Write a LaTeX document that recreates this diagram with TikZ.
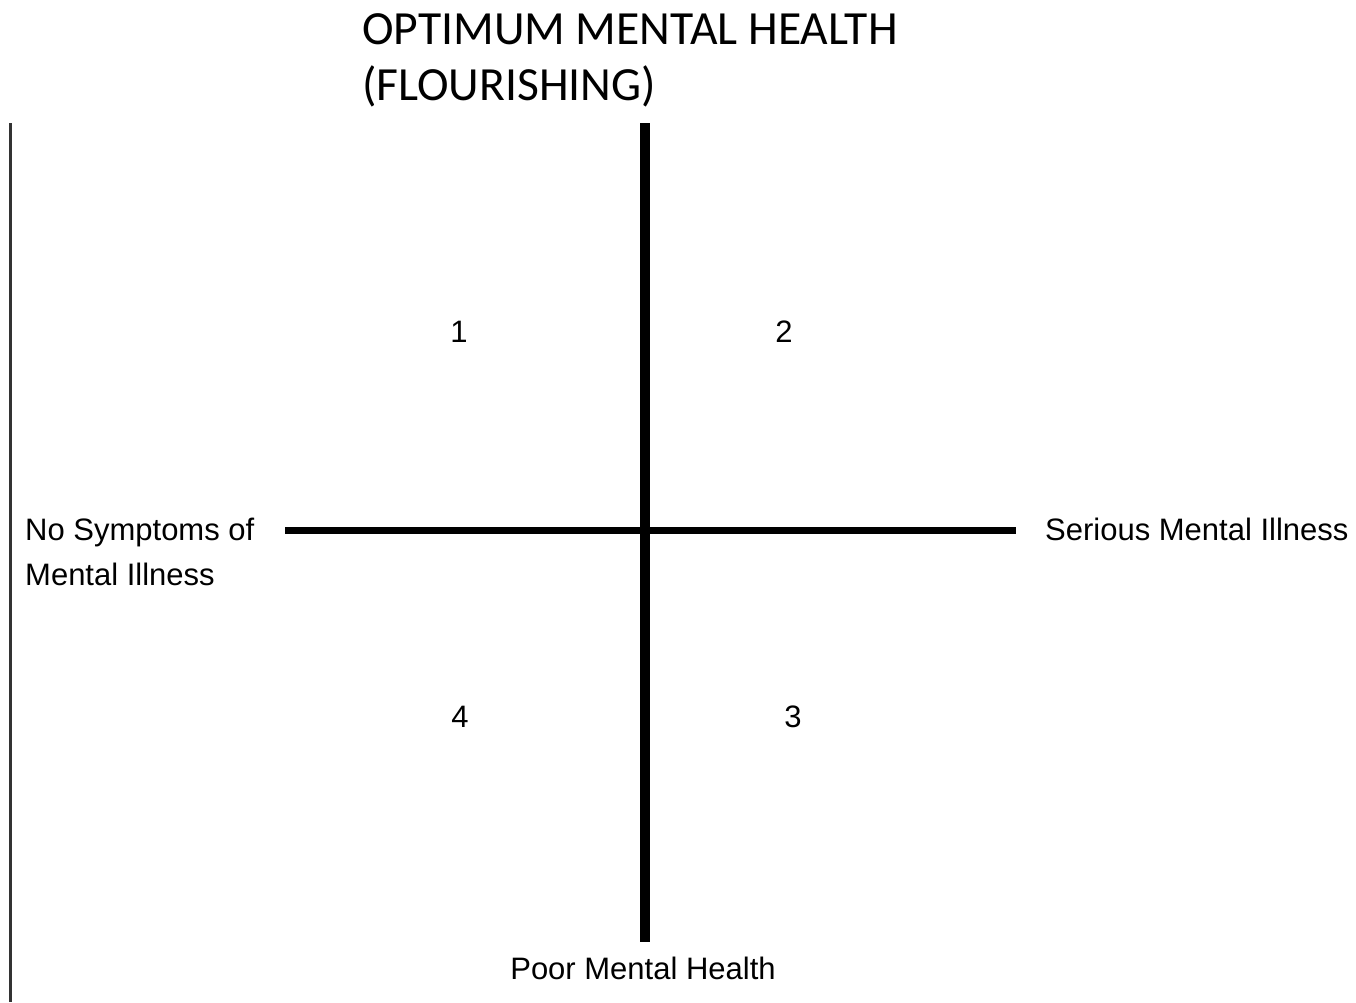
\documentclass[tikz,border=0pt]{standalone}
\usepackage{fontspec}
\setmainfont{Liberation Sans}
\newfontfamily\titlefont{Carlito}
\begin{document}
\begin{tikzpicture}[x=1pt,y=-1pt,
  lbl/.style={inner sep=0pt,font=\fontsize{31}{45}\selectfont},
  ttl/.style={inner sep=0pt,font=\titlefont\fontsize{47.6}{56}\selectfont},
  axisv/.style={line width=10pt,black},
  axish/.style={line width=6.5pt,black},
  border/.style={line width=3pt,color={rgb,255:red,51;green,51;blue,51}}]
\useasboundingbox[fill=white] (0,0) rectangle (1356,1002);
% left border line
\coordinate (btop) at (10.5,123);
\coordinate (bbot) at (10.5,1002);
\draw[border] (btop) -- (bbot);
% axes
\coordinate (top) at (645,123);
\coordinate (bottom) at (645,942);
\coordinate (left) at (285,530.5);
\coordinate (right) at (1016,530.5);
\draw[axish] (left) -- (right);
\draw[axisv] (top) -- (bottom);
% title
\node[ttl,anchor=base west] (title1) at (362,44) {OPTIMUM MENTAL HEALTH};
\node[ttl,anchor=base west] (title2) at (362,100) {(FLOURISHING)};
% axis labels
\node[lbl,anchor=base west] (nosym1) at (25,540) {No Symptoms of};
\node[lbl,anchor=base west] (nosym2) at (25,585) {Mental Illness};
\node[lbl,anchor=base west] (serious) at (1045,540) {Serious Mental Illness};
\node[lbl,anchor=base] (poor) at (643,979) {Poor Mental Health};
% quadrant numbers
\node[lbl,anchor=base] (q1) at (459,342) {1};
\node[lbl,anchor=base] (q2) at (784,342) {2};
\node[lbl,anchor=base] (q3) at (793,727) {3};
\node[lbl,anchor=base] (q4) at (460,727) {4};
\end{tikzpicture}
\end{document}
